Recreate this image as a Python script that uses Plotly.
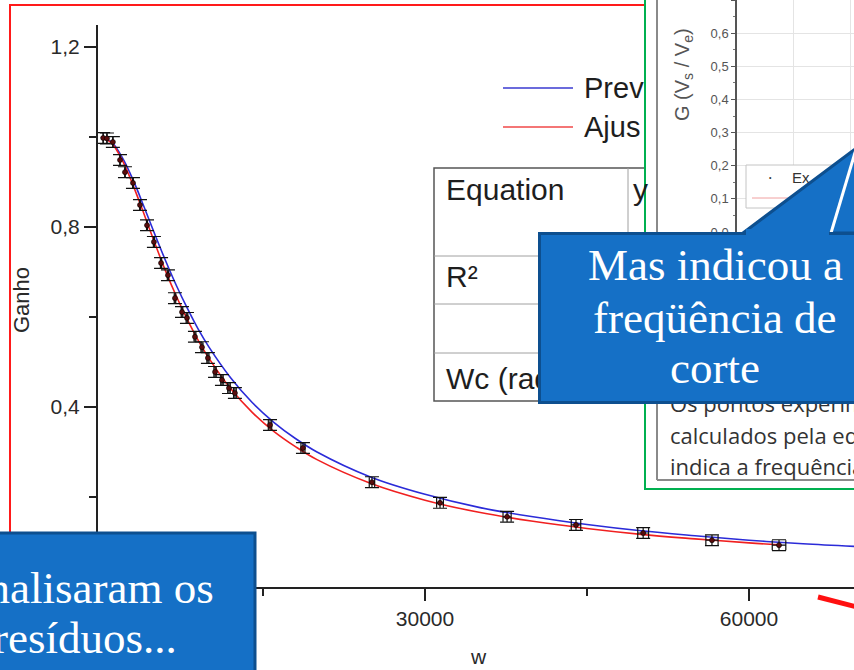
import plotly.graph_objects as go

# ---------------- data ----------------
w_exp = [200, 550, 1100, 1760, 2220, 2960, 3610, 4260, 4900, 5560, 6200, 6850, 7500, 7960,
         8700, 9350, 9900, 10560, 11200, 11850, 12400, 15650, 18700, 25090, 31390, 37600,
         43980, 50200, 56570, 62780]
g_exp = [0.998, 0.997, 0.989, 0.949, 0.922, 0.898, 0.849, 0.804, 0.767, 0.720, 0.693, 0.642,
         0.611, 0.598, 0.556, 0.533, 0.509, 0.478, 0.460, 0.442, 0.431, 0.360, 0.309, 0.233,
         0.187, 0.156, 0.138, 0.120, 0.104, 0.093]
g_err = [0.012] * len(w_exp)

w_prev = [0, 1000, 2000, 3000, 4000, 5000, 6000, 7000, 8000, 9000, 10000, 12000, 14000, 16000,
          18000, 20000, 25000, 30000, 35000, 40000, 45000, 50000, 55000, 60000, 65000, 70000]
g_prev = [1.000, 0.988, 0.953, 0.903, 0.844, 0.783, 0.724, 0.669, 0.619, 0.573, 0.533, 0.465,
          0.410, 0.366, 0.330, 0.300, 0.244, 0.206, 0.177, 0.156, 0.139, 0.125, 0.114, 0.104,
          0.096, 0.090]

w_fit = [0, 1000, 2000, 3000, 4000, 5000, 6000, 7000, 8000, 9000, 10000, 12000, 14000, 16000,
         18000, 20000, 25000, 30000, 35000, 40000, 45000, 50000, 55000, 60000, 62780]
g_fit = [1.000, 0.986, 0.947, 0.891, 0.828, 0.763, 0.701, 0.645, 0.594, 0.548, 0.508, 0.441,
         0.388, 0.346, 0.312, 0.283, 0.230, 0.193, 0.166, 0.146, 0.130, 0.117, 0.107, 0.098,
         0.094]

x_ticks = [30000, 60000]
x_minor = [15000, 45000]
y_ticks = [0.4, 0.8, 1.2]
y_minor = [0.2, 0.6, 1.0]

legend_names = ["Prev", "Ajus"]
table_labels = ["Equation", "R²", "Wc (rad/s)"]
inset_lines = ["Os pontos experimentais", "calculados pela equação", "indica a frequência de corte"]
callout1_lines = ["Mas indicou a", "freqüência de", "corte"]
callout2_lines = ["Analisaram os", "resíduos..."]

# ---------------- helpers: page pixels -> paper coords ----------------
L, R, T, B = 98, 0, 0, 83
W, H = 854, 670
PW, PH = W - L - R, H - T - B


def PX(x):
    return (x - L) / PW


def PY(y):
    return (H - B - y) / PH


SANS = "Liberation Sans, Arial, sans-serif"
SERIF = "Liberation Serif, DejaVu Serif, serif"
BODY = "Open Sans, Liberation Sans, sans-serif"
BLUE_BOX = "#1570c6"
BLUE_EDGE = "#0d4f8f"

fig = go.Figure()

fig.add_trace(go.Scatter(x=w_prev, y=g_prev, mode="lines", line=dict(color="#2b2bd8", width=1.6, shape="spline"),
                         showlegend=False, hoverinfo="skip"))
fig.add_trace(go.Scatter(x=w_fit, y=g_fit, mode="lines", line=dict(color="#f02020", width=1.6, shape="spline"),
                         showlegend=False, hoverinfo="skip"))
fig.add_trace(go.Scatter(
    x=w_exp, y=g_exp, mode="markers",
    marker=dict(symbol="circle", size=5, color="#5a0c0c", line=dict(color="black", width=0.6)),
    error_y=dict(type="data", array=g_err, color="#111", thickness=1.2, width=7),
    error_x=dict(type="percent", value=1.0, color="#111", thickness=1.2, width=5),
    showlegend=False, hoverinfo="skip"))
# inner (inset) chart axes
fig.add_trace(go.Scatter(x=[], y=[], xaxis="x2", yaxis="y2", showlegend=False))

axis_font = dict(family=SANS, size=21, color="#2a2a2a")

fig.update_layout(
    width=W, height=H,
    margin=dict(l=L, r=R, t=T, b=B),
    paper_bgcolor="white", plot_bgcolor="white",
    separators=",.",
    showlegend=False,
    xaxis=dict(domain=[0, 1], range=[-278, 69722], anchor="y",
               showline=True, linecolor="#222", linewidth=2, mirror=False,
               ticks="outside", ticklen=12, tickwidth=1.6, tickcolor="#222",
               tickvals=x_ticks, tickformat="d", tickfont=axis_font,
               minor=dict(tickvals=x_minor, ticks="outside", ticklen=7, tickwidth=1.6, tickcolor="#222"),
               showgrid=False, zeroline=False),
    yaxis=dict(domain=[0, (H - B - 25) / PH], range=[0, 1.249], anchor="x",
               showline=True, linecolor="#222", linewidth=2,
               ticks="outside", ticklen=12, tickwidth=1.6, tickcolor="#222",
               tickvals=y_ticks, tickformat=".1f", tickfont=axis_font,
               minor=dict(tickvals=y_minor, ticks="outside", ticklen=7, tickwidth=1.6, tickcolor="#222"),
               showgrid=False, zeroline=False),
    xaxis2=dict(domain=[PX(737), 1], range=[0, 117], anchor="y2",
                showticklabels=False, ticks="", tickvals=[56, 113],
                showgrid=True, gridcolor="#e4e4e4", gridwidth=1, showline=False, zeroline=False),
    yaxis2=dict(domain=[PY(232), 1], range=[0, 0.7], anchor="x2",
                dtick=0.1, tickformat=".1f", ticks="outside", ticklen=4, tickwidth=1, tickcolor="#555",
                tickfont=dict(family=SANS, size=13, color="#555"),
                minor=dict(dtick=0.05, ticks="outside", ticklen=2, tickcolor="#777"),
                showgrid=True, gridcolor="#e4e4e4", gridwidth=1,
                showline=True, linecolor="#555", linewidth=1.5, zeroline=False),
)

shapes = []


def rect(x0, y0, x1, y1, line_color, lw, fill="rgba(0,0,0,0)", layer="above"):
    shapes.append(dict(type="rect", xref="paper", yref="paper", x0=PX(x0), y0=PY(y0), x1=PX(x1), y1=PY(y1),
                       line=dict(color=line_color, width=lw), fillcolor=fill, layer=layer))


def seg(x0, y0, x1, y1, color, lw, layer="above"):
    shapes.append(dict(type="line", xref="paper", yref="paper", x0=PX(x0), y0=PY(y0), x1=PX(x1), y1=PY(y1),
                       line=dict(color=color, width=lw), layer=layer))


# red frame around the main chart
rect(10, 5, 900, 720, "#ff1a1a", 2, layer="below")
# results table
rect(434, 168, 720, 401, "#555", 1.5, fill="white", layer="below")
seg(434, 256, 720, 256, "#a0a0a0", 1, layer="below")
seg(434, 304, 720, 304, "#a0a0a0", 1, layer="below")
seg(434, 353, 720, 353, "#a0a0a0", 1, layer="below")
seg(628, 168, 628, 401, "#a0a0a0", 1, layer="below")
# inset picture (green frame)
rect(645, -10, 900, 489, "#00b050", 2, fill="white", layer="below")
seg(657, -5, 657, 480, "#8a8a8a", 2, layer="below")
seg(657, 480, 900, 480, "#8a8a8a", 2, layer="below")
# main legend samples
seg(503, 88, 573, 88, "#3a3ad0", 1.6)
seg(503, 127, 573, 127, "#f04848", 1.6)
# inset legend box
rect(746, 165, 900, 208, "#c4c4c4", 1, fill="white")
seg(752, 198, 792, 198, "#f0a0a0", 1)
# callout pointer (upper right)
px_path = "M {} {} L {} {} L {} {} Z".format(PX(743), PY(233), PX(935), PY(89), PX(935), PY(233))
shapes.append(dict(type="path", xref="paper", yref="paper", path=px_path,
                   fillcolor=BLUE_BOX, line=dict(color=BLUE_EDGE, width=3), layer="above"))
seg(831, 233, 857, 146, "white", 3)
# callout box (lower left)
rect(-10, 533, 255, 690, BLUE_EDGE, 3, fill=BLUE_BOX)
# red arrow stub
seg(818, 597, 880, 613, "#ff1010", 5)

fig.update_layout(shapes=shapes)

ann = []


def text(x, y, s, size, color="#222", family=SANS, xanchor="left", angle=0, **kw):
    d = dict(xref="paper", yref="paper", x=PX(x), y=PY(y), text=s, showarrow=False,
             xanchor=xanchor, yanchor="middle", textangle=angle,
             font=dict(family=family, size=size, color=color))
    d.update(kw)
    ann.append(d)


text(21, 300, "Ganho", 22, color="#2a2a2a", xanchor="center", angle=-90)
text(478, 656, "w", 21, color="#2a2a2a", xanchor="center")
text(582, 88, legend_names[0], 29, color="#1e1e1e")
text(582, 127, legend_names[1], 29, color="#1e1e1e")
text(444, 189, table_labels[0], 30, color="#1e1e1e")
text(631, 189, "y", 30, color="#1e1e1e")
text(444, 276, table_labels[1], 30, color="#1e1e1e")
text(444, 378, table_labels[2], 30, color="#1e1e1e")
# inset texts
text(683, 75, "G (V<sub>s</sub> / V<sub>e</sub>)", 20, color="#555", xanchor="center", angle=-90)
text(770, 177, "•", 7, color="#333", xanchor="center")
text(790, 177, "Ex", 15, color="#333")
text(668, 403, inset_lines[0], 22, color="#333", family=BODY)
text(668, 435, inset_lines[1], 22, color="#333", family=BODY)
text(668, 466, inset_lines[2], 22, color="#333", family=BODY)
# callout box (upper right) drawn as an annotation so that it covers the text beneath
ann.append(dict(xref="paper", yref="paper", x=PX(538), y=PY(232), xanchor="left", yanchor="top",
                text=" ", showarrow=False, width=350, height=166, borderpad=0, borderwidth=3,
                bgcolor=BLUE_BOX, bordercolor=BLUE_EDGE, font=dict(size=10)))
# blue patch joining the pointer to the box (hides the box edge under the pointer base)
ann.append(dict(xref="paper", yref="paper", x=PX(746), y=PY(229), xanchor="left", yanchor="top",
                text=" ", showarrow=False, width=83, height=7, borderpad=0, borderwidth=0,
                bgcolor=BLUE_BOX, font=dict(size=4)))
text(715, 265, callout1_lines[0], 45, color="white", family=SERIF, xanchor="center")
text(715, 318, callout1_lines[1], 45, color="white", family=SERIF, xanchor="center")
text(715, 368, callout1_lines[2], 45, color="white", family=SERIF, xanchor="center")
# lower-left callout text
text(216, 588, callout2_lines[0], 45, color="white", family=SERIF, xanchor="right")
text(179, 638, callout2_lines[1], 45, color="white", family=SERIF, xanchor="right")

fig.update_layout(annotations=ann)

fig.write_html("out.html")
